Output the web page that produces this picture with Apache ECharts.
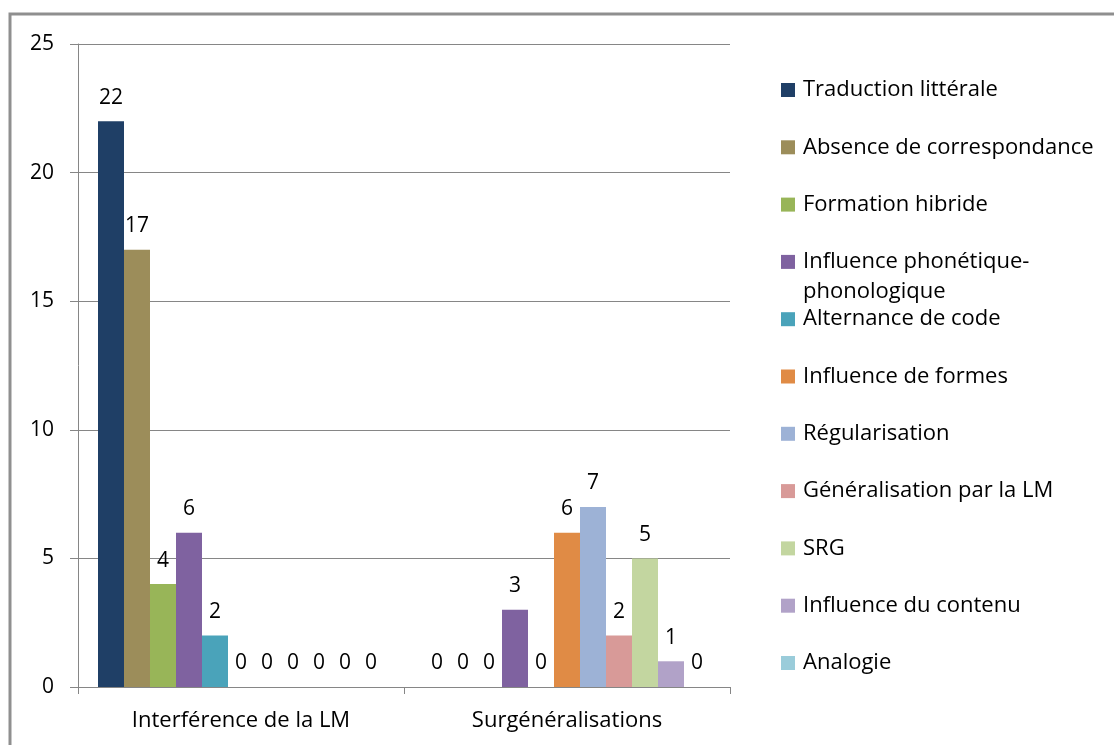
<!DOCTYPE html>
<html><head><meta charset="utf-8">
<script src="https://cdn.jsdelivr.net/npm/echarts@6/dist/echarts.min.js"></script>
<style>html,body{margin:0;padding:0;background:#fff;overflow:hidden;} #chart{width:1114px;height:745px;}</style>
</head><body><div id="chart"></div>
<script>
// ---- data ----
const categories = ['Interférence de la LM', 'Surgénéralisations'];
const seriesNames = ['Traduction littérale', 'Absence de correspondance', 'Formation hibride',
  'Influence phonétique-phonologique', 'Alternance de code', 'Influence de formes',
  'Régularisation', 'Généralisation par la LM', 'SRG', 'Influence du contenu', 'Analogie'];
const traductionLitterale   = [22, 0];
const absenceCorrespondance = [17, 0];
const formationHibride      = [4, 0];
const influencePhonetique   = [6, 3];
const alternanceCode        = [2, 0];
const influenceFormes       = [0, 6];
const regularisation        = [0, 7];
const generalisationLM      = [0, 2];
const srg                   = [0, 5];
const influenceContenu      = [0, 1];
const analogie              = [0, 0];
const yTicks = [0, 5, 10, 15, 20, 25];

// ---- styles ----
const seriesValues = [traductionLitterale, absenceCorrespondance, formationHibride, influencePhonetique,
  alternanceCode, influenceFormes, regularisation, generalisationLM, srg, influenceContenu, analogie];
const colors = ['#1F3F66', '#9C8D5A', '#98B558', '#7F62A0', '#4AA3BA', '#E08B45',
  '#9DB2D6', '#D89A98', '#C3D6A0', '#B1A2C8', '#9ACCDA'];
const FONT = 'Open Sans';
const FS = 21;
const FS_BIG = 22;
const gridCol = '#868686';

const series = seriesNames.map((name, i) => ({
  name: name,
  type: 'bar',
  data: seriesValues[i],
  barWidth: 26,
  barGap: '0%',
  itemStyle: { color: colors[i] },
  label: { show: true, position: 'top', distance: 13, fontFamily: FONT, fontSize: FS, color: '#000' },
  emphasis: { disabled: true }
}));

const legendTop0 = 90, legendStep = 57.3, lh = 30;
const legends = seriesNames.map((name, i) => {
  const multi = name.indexOf('-') >= 0;
  const c = legendTop0 + i * legendStep;
  return {
    left: 781,
    top: c - (multi ? 1.5 * lh : 0.5 * lh),
    padding: 0,
    itemWidth: 14, itemHeight: 14,
    icon: 'rect',
    selectedMode: false,
    data: [name],
    formatter: multi ? (n) => '\n' + n.replace('-', '-\n') : '{name}',
    textStyle: { fontFamily: FONT, fontSize: FS_BIG, color: '#000', lineHeight: lh, padding: [0, 0, 0, 3] }
  };
});

const chart = echarts.init(document.getElementById('chart'), null, { renderer: 'canvas' });
chart.setOption({
  animation: false,
  backgroundColor: '#fff',
  color: colors,
  grid: { left: 78, right: 384, top: 44, bottom: 58, containLabel: false },
  legend: legends,
  xAxis: {
    type: 'category',
    data: categories,
    axisLine: { lineStyle: { color: gridCol, width: 1 } },
    axisTick: { show: true, length: 7, lineStyle: { color: gridCol } },
    axisLabel: { fontFamily: FONT, fontSize: FS_BIG, color: '#000', margin: 23 }
  },
  yAxis: {
    type: 'value',
    min: yTicks[0], max: yTicks[yTicks.length - 1], interval: yTicks[1] - yTicks[0],
    axisLine: { show: true, lineStyle: { color: gridCol, width: 1 } },
    axisTick: { show: true, length: 8, lineStyle: { color: gridCol } },
    splitLine: { lineStyle: { color: gridCol, width: 1 } },
    axisLabel: { fontFamily: FONT, fontSize: FS, color: '#000', margin: 24 }
  },
  graphic: [{
    type: 'rect', silent: true,
    shape: { x: 10, y: 14, width: 1200, height: 800 },
    style: { fill: 'none', stroke: '#8f8f8f', lineWidth: 3 }
  }],
  series: series
});
</script></body></html>
